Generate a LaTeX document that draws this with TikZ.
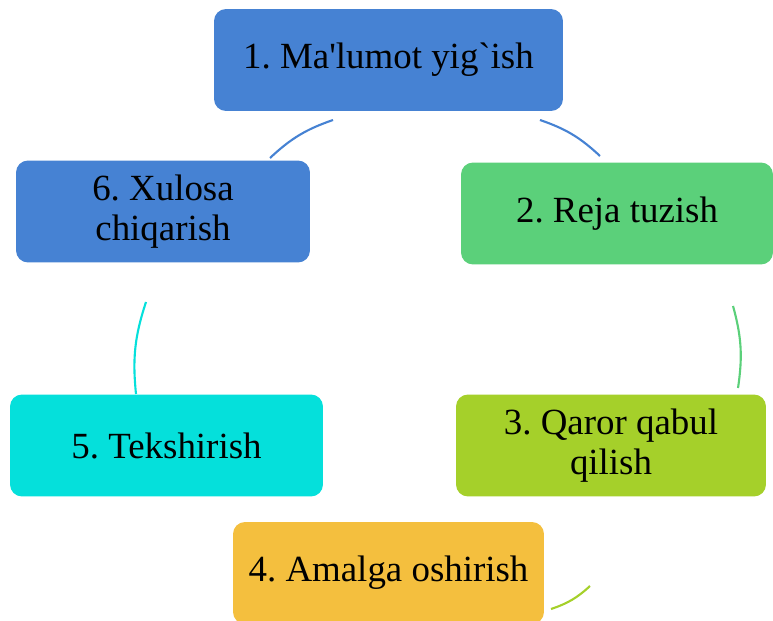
\documentclass[tikz,border=0pt]{standalone}
\usepackage{fontspec}
\setmainfont{Liberation Serif}[Ligatures=TeXOff]
\usepackage{tikz}
\usetikzlibrary{positioning}
\frenchspacing

\definecolor{stepblue}{RGB}{70,130,211}
\definecolor{stepgreen}{RGB}{91,208,122}
\definecolor{steplime}{RGB}{165,208,42}
\definecolor{steporange}{RGB}{244,191,62}
\definecolor{stepcyan}{RGB}{5,224,219}

\begin{document}
\begin{tikzpicture}[
  x=0.02cm, y=-0.02cm,
  stage/.style={rectangle, draw=none, rounded corners=0.24cm, minimum width=6.24cm, minimum height=2.04cm, align=center, inner sep=0pt, font=\fontsize{21}{23}\selectfont},
  cyclearc/.style={line width=1.2pt, bend left=12}
]
\useasboundingbox (0,0) rectangle (773,621);

\node[stage, fill=stepblue, minimum width=6.98cm] (collect) at (388.5,60) {\raisebox{-2pt}{1. Ma'lumot yig`ish}};
\node[stage, fill=stepgreen] (plan) at (617,213.5) {\raisebox{-2pt}{2. Reja tuzish}};
\node[stage, fill=steplime, minimum width=6.2cm] (decide) at (611,445.5) {3. Qaror qabul\\qilish};
\node[stage, fill=steporange, minimum width=6.22cm] (act) at (388.5,573) {\raisebox{-2pt}{4. Amalga oshirish}};
\node[stage, fill=stepcyan, minimum width=6.26cm] (check) at (166.5,445.5) {\raisebox{-1pt}{5. Tekshirish}};
\node[stage, fill=stepblue, minimum width=5.88cm] (conclude) at (163,211.5) {6. Xulosa\\chiqarish};

% arc ends
\coordinate (a1s) at (540,120);
\coordinate (a1e) at (600,156);
\coordinate (a2s) at (733,306);
\coordinate (a2e) at (738,388);
\coordinate (a3s) at (590,586);
\coordinate (a3e) at (551,609);
\coordinate (a5s) at (136,394);
\coordinate (a5e) at (146,302);
\coordinate (a6s) at (270,158);
\coordinate (a6e) at (333,120);

\draw[cyclearc, stepblue] (a1s) to (a1e);
\draw[cyclearc, stepgreen] (a2s) to (a2e);
\draw[cyclearc, steplime] (a3s) to (a3e);
\draw[cyclearc, stepcyan] (a5s) to (a5e);
\draw[cyclearc, stepblue] (a6s) to (a6e);

\end{tikzpicture}
\end{document}
